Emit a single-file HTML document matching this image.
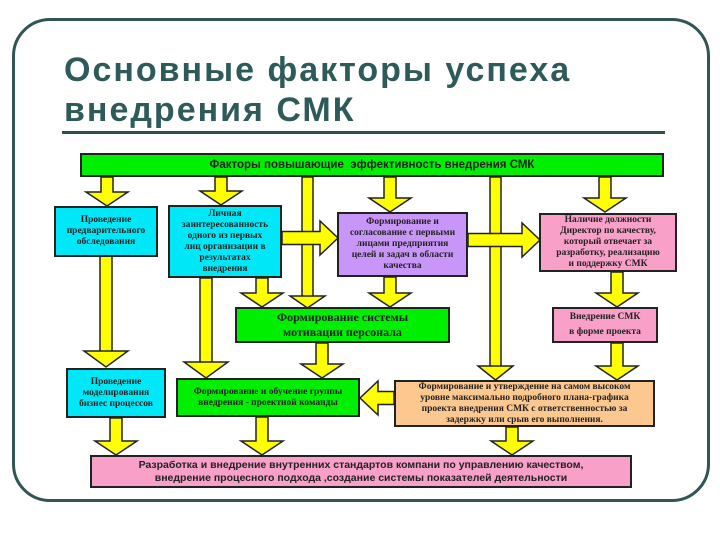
<!DOCTYPE html>
<html><head><meta charset="utf-8"><style>
body{margin:0;width:720px;height:540px;background:#fff;position:relative;overflow:hidden;font-family:"Liberation Serif",serif;}
.frame{position:absolute;left:12px;top:18px;width:692px;height:478px;border:3px solid #2f5555;border-radius:38px;}
.title{position:absolute;left:64px;top:50px;font:bold 34px/40px "Liberation Sans",sans-serif;color:#2f5a5a;letter-spacing:2px;}
.rule{position:absolute;left:62px;top:131px;width:603px;height:3px;background:#2f4f4f;}
.b{position:absolute;box-sizing:border-box;border:2px solid #222;display:flex;align-items:center;justify-content:center;text-align:center;font-weight:bold;color:#222;font-size:9.5px;line-height:11px;}
.s{font-family:"Liberation Sans",sans-serif;}
svg{position:absolute;left:0;top:0;}
</style></head><body>
<div class="frame"></div>
<div class="title">Основные факторы успеха<br>внедрения СМК</div>
<div class="rule"></div>
<svg width="720" height="540">
<g fill="#ffff00" stroke="#222" stroke-width="1.5">
<rect x="302" y="177" width="11" height="120"/>
<polygon points="290,296 325,296 307.5,308"/>
<rect x="490" y="177" width="11" height="190"/>
<polygon points="478,366 513,366 495.5,380"/>
<rect x="100" y="256" width="12" height="96"/>
<polygon points="84,351 128,351 106,367"/>
<rect x="200" y="278" width="12" height="85"/>
<polygon points="184,362 228,362 206,378"/>
<polygon points="101,177 113,177 113,192 128,192 107,206 86,192 101,192"/>
<polygon points="215,177 227,177 227,191 242,191 221,205 200,191 215,191"/>
<polygon points="384,177 396,177 396,198 411,198 390,212 369,198 384,198"/>
<polygon points="599,177 611,177 611,198 626,198 605,212 584,198 599,198"/>
<polygon points="256,278 268,278 268,293 283,293 262,307 241,293 256,293"/>
<polygon points="384,277 396,277 396,293 411,293 390,307 369,293 384,293"/>
<polygon points="611,272 623,272 623,293 638,293 617,307 596,293 611,293"/>
<polygon points="611,343 623,343 623,366 638,366 617,380 596,366 611,366"/>
<polygon points="316,343 328,343 328,364 343,364 322,378 301,364 316,364"/>
<polygon points="110,418 122,418 122,441 137,441 116,455 95,441 110,441"/>
<polygon points="256,417 268,417 268,441 283,441 262,455 241,441 256,441"/>
<polygon points="506,427 518,427 518,441 533,441 512,455 491,441 506,441"/>
<polygon points="282,231.5 320,231.5 320,221 338,238 320,255 320,244.5 282,244.5"/>
<polygon points="468,233.5 522,233.5 522,223 540,240 522,257 522,246.5 468,246.5"/>
<polygon points="394,391.5 378,391.5 378,381 360,398 378,415 378,404.5 394,404.5"/>
</g>
</svg>
<div class="b s" style="left:80px;top:153px;width:584px;height:24px;background:#00ee00;font-size:11.5px;">Факторы повышающие&nbsp; эффективность внедрения СМК</div>
<div class="b" style="left:54px;top:206px;width:104px;height:51px;background:#00e8f8;">Проведение<br>предварительного<br>обследования</div>
<div class="b" style="left:168px;top:205px;width:114px;height:73px;background:#00e8f8;">Личная<br>заинтересованность<br>одного из первых<br>лиц организации в<br>результатах<br>внедрения</div>
<div class="b" style="left:337px;top:212px;width:131px;height:65px;background:#c896f8;">Формирование и<br>согласование с первыми<br>лицами предприятия<br>целей и задач в области<br>качества</div>
<div class="b" style="left:539px;top:213px;width:138px;height:59px;background:#f8a0c8;">Наличие должности<br>Директор по качеству,<br>который отвечает за<br>разработку, реализацию<br>и поддержку СМК</div>
<div class="b" style="left:235px;top:307px;width:215px;height:36px;background:#00ee00;font-size:12px;line-height:15px;">Формирование системы<br>мотивации персонала</div>
<div class="b" style="left:552px;top:307px;width:106px;height:36px;background:#f8a0c8;line-height:15px;">Внедрение СМК<br>в форме проекта</div>
<div class="b" style="left:66px;top:368px;width:100px;height:50px;background:#00e8f8;">Проведение<br>моделирования<br>бизнес процессов</div>
<div class="b" style="left:176px;top:378px;width:184px;height:39px;background:#00ee00;">Формирование и обучение группы<br>внедрения - проектной команды</div>
<div class="b" style="left:394px;top:380px;width:261px;height:47px;background:#fcc890;">Формирование и утверждение на самом высоком<br>уровне максимально подробного плана-графика<br>проекта внедрения СМК с ответственностью за<br>задержку или срыв его выполнения.</div>
<div class="b s" style="left:90px;top:455px;width:542px;height:33px;background:#f8a0c8;font-size:10.5px;line-height:13px;">Разработка и внедрение внутренних стандартов компани по управлению качеством,<br>внедрение процесного подхода ,создание системы показателей деятельности</div>
</body></html>
